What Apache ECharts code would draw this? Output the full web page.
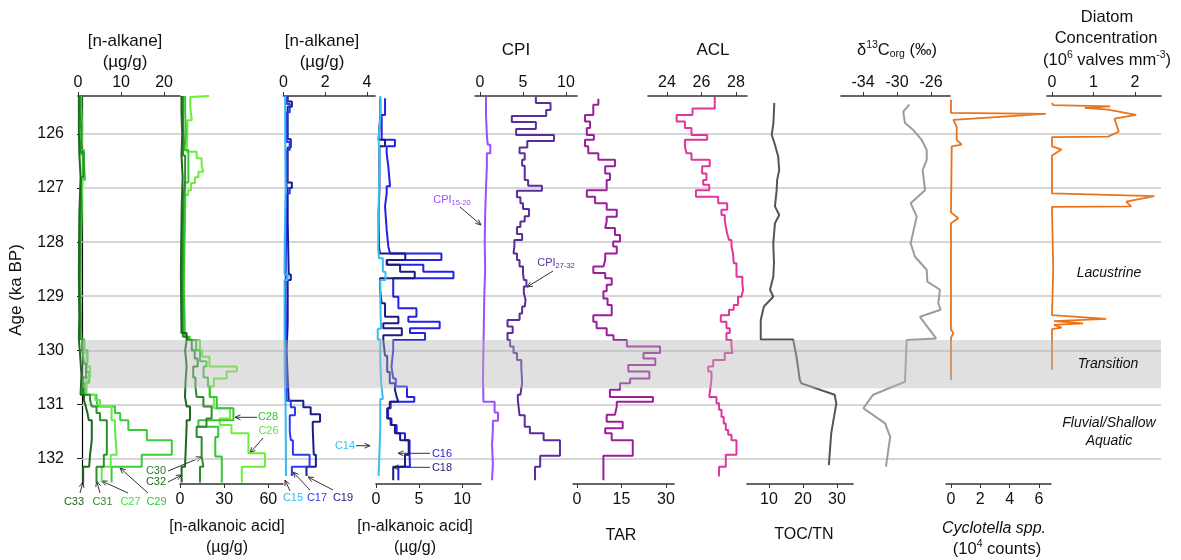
<!DOCTYPE html>
<html>
<head>
<meta charset="utf-8">
<script src="https://cdn.jsdelivr.net/npm/echarts@6/dist/echarts.min.js"></script>
<style>
  html, body { margin: 0; padding: 0; background: #ffffff; }
  #chart { width: 1181px; height: 560px; }
</style>
</head>
<body>
<div id="chart"></div>
<script>
// ---------------- Age scale (ka BP) ----------------
const AGE_TOP = 125.30;
const AGE_BOTTOM = 132.47;
const ageTicks = [126, 127, 128, 129, 130, 131, 132];
const transitionZone = [129.81, 130.70];

// ---------------- Long-chain n-alkanes (µg/g) : step profiles ----------------
// each value holds from ages[i] down to ages[i+1]
const c33Age = [125.30, 125.9, 126.35, 126.8, 127.5, 128.6, 129.4, 129.78, 130.1, 130.45, 130.82, 130.92, 131.04, 131.16, 131.29, 131.66, 131.93, 132.15, 132.44];
const c33Val = [0.2, 0.3, 0.6, 0.3, 0.2, 0.3, 0.2, 0.5, 0.8, 0.6, 1.4, 1.8, 2.2, 2.5, 3.2, 2.8, 2.6, 1.2];
const c31Age = [125.30, 125.6, 126.0, 126.35, 126.8, 127.3, 128.0, 128.8, 129.5, 129.78, 130.0, 130.25, 130.5, 130.82, 130.92, 131.04, 131.16, 131.29, 131.93, 132.15, 132.44];
const c31Val = [0.5, 0.8, 0.6, 1.3, 0.7, 0.5, 0.4, 0.6, 0.5, 1.0, 1.4, 1.9, 1.2, 2.8, 3.2, 4.3, 5.1, 6.7, 6.0, 4.3];
const c29Age = [125.30, 125.5, 125.9, 126.3, 126.55, 126.85, 127.4, 128.1, 128.9, 129.6, 129.8, 130.0, 130.2, 130.4, 130.6, 130.82, 130.92, 131.04, 131.16, 131.29, 131.47, 131.66, 131.93, 132.15, 132.44];
const c29Val = [0.8, 1.0, 0.7, 1.4, 1.6, 0.9, 0.7, 0.6, 0.7, 0.8, 1.5, 2.2, 1.8, 2.6, 1.6, 4.3, 4.6, 8.6, 9.8, 11.7, 16.0, 21.8, 14.8, 7.8];
const c27Age = [125.30, 125.7, 126.1, 126.4, 126.75, 127.2, 128.0, 128.7, 129.5, 129.8, 130.05, 130.3, 130.5, 130.82, 130.92, 131.04, 131.29, 131.47, 131.93, 132.15, 132.44];
const c27Val = [0.6, 0.9, 0.7, 1.2, 0.8, 0.6, 0.5, 0.7, 0.6, 1.3, 2.0, 2.8, 2.0, 4.0, 5.1, 7.8, 8.6, 9.0, 7.6, 5.5];

// ---------------- Long-chain n-alkanoic acids (µg/g) ----------------
const c32Age = [125.30, 125.6, 126.0, 126.4, 126.8, 127.3, 128.0, 128.6, 129.2, 129.68, 129.81, 130.0, 130.3, 130.55, 130.86, 131.04, 131.29, 131.41, 132.15, 132.44];
const c32Val = [1.0, 1.5, 1.0, 1.8, 1.2, 0.8, 0.6, 0.8, 1.0, 4.5, 3.5, 4.5, 3.8, 3.4, 4.5, 6.8, 4.5, 3.4, 1.1];
const c30Age = [125.30, 125.7, 126.1, 126.4, 126.85, 127.2, 128.0, 128.8, 129.5, 129.75, 129.81, 130.0, 130.15, 130.3, 130.5, 130.67, 130.86, 131.04, 131.26, 131.41, 131.6, 131.96, 132.15, 132.44];
const c30Val = [2.0, 2.5, 2.0, 3.5, 2.2, 1.8, 1.5, 1.8, 2.0, 5.0, 8.0, 10.0, 12.0, 9.0, 10.5, 11.3, 15.9, 21.5, 18.0, 11.3, 14.7, 15.9, 13.6];
const c28Age = [125.30, 125.6, 126.0, 126.3, 126.9, 127.2, 128.0, 128.8, 129.5, 129.75, 129.81, 130.0, 130.2, 130.3, 130.5, 130.67, 130.86, 131.07, 131.29, 131.41, 131.6, 131.96, 132.44];
const c28Val = [3.5, 4.0, 3.0, 5.7, 3.5, 2.8, 2.5, 3.0, 3.2, 6.0, 11.0, 13.6, 18.0, 16.0, 19.0, 20.4, 25.0, 36.3, 12.5, 26.0, 24.0, 28.4];
const c26Age = [125.30, 125.32, 125.5, 125.75, 126.0, 126.33, 126.45, 126.6, 126.7, 126.8, 126.91, 127.04, 127.13, 127.6, 128.2, 128.9, 129.5, 129.75, 129.81, 130.0, 130.12, 130.3, 130.39, 130.52, 130.67, 130.86, 131.07, 131.26, 131.38, 131.53, 131.9, 132.15, 132.44];
const c26Val = [19.7, 7.0, 8.0, 5.0, 4.5, 11.3, 14.7, 15.9, 12.5, 10.2, 7.5, 5.5, 3.5, 3.0, 2.7, 3.2, 3.0, 7.0, 13.6, 15.0, 20.0, 38.6, 31.7, 23.0, 20.0, 23.0, 34.0, 27.0, 35.0, 46.5, 57.8, 42.0];

// ---------------- Short-chain n-alkanes (µg/g) ----------------
const c19Age = [125.30, 125.40, 125.50, 126.1, 126.25, 126.9, 127.0, 127.6, 128.6, 128.7, 129.5, 130.0, 130.5, 130.93, 131.05, 131.18, 131.32, 131.45, 131.93, 132.15, 132.32];
const c19Val = [0.2, 0.4, 0.2, 0.35, 0.2, 0.4, 0.2, 0.25, 0.35, 0.2, 0.15, 0.2, 0.25, 0.95, 1.3, 1.75, 1.4, 1.45, 1.55, 1.1];
const c17Age = [125.30, 125.45, 125.6, 126.15, 126.3, 127.0, 127.1, 128.0, 129.0, 129.6, 130.2, 130.93, 131.05, 131.2, 131.5, 131.66, 131.93, 132.15, 132.32];
const c17Val = [0.15, 0.3, 0.15, 0.3, 0.15, 0.3, 0.12, 0.1, 0.12, 0.1, 0.15, 0.35, 0.55, 0.3, 0.35, 0.45, 1.25, 0.4];
const c15Age = [125.30, 126.0, 127.0, 128.0, 128.6, 128.7, 129.5, 130.5, 131.0, 132.32];
const c15Val = [0.08, 0.1, 0.06, 0.05, 0.2, 0.05, 0.06, 0.1, 0.12];

// ---------------- Short-chain n-alkanoic acids (µg/g) ----------------
const c14Age = [125.30, 125.7, 126.1, 126.5, 127.0, 127.5, 128.1, 128.3, 128.55, 128.7, 129.1, 129.4, 129.6, 129.8, 130.2, 130.6, 130.9, 131.4, 131.9, 132.32];
const c14Val = [0.5, 0.3, 0.45, 0.35, 0.3, 0.25, 0.35, 0.8, 1.1, 0.5, 0.55, 0.6, 0.2, 0.5, 0.6, 0.8, 0.5, 0.4, 0.3];
const c16Age = [125.34, 125.65, 126.11, 126.23, 126.36, 126.60, 126.97, 127.10, 127.34, 127.77, 128.08, 128.21, 128.33, 128.42, 128.55, 128.67, 129.01, 129.22, 129.38, 129.47, 129.59, 129.68, 129.81, 130.0, 130.3, 130.52, 130.67, 130.86, 130.95, 131.07, 131.26, 131.38, 131.53, 131.66, 131.93, 132.15, 132.40];
const c16Val = [1.05, 0.66, 2.2, 1.24, 1.43, 1.63, 1.24, 1.05, 1.24, 1.43, 1.63, 7.6, 1.3, 5.5, 9.0, 2.0, 2.6, 4.7, 3.76, 7.4, 3.95, 5.7, 2.0, 1.8, 2.0, 2.3, 3.6, 4.45, 1.7, 1.4, 1.8, 2.4, 3.37, 3.9, 3.95, 2.6];
const c18Age = [125.34, 125.65, 126.11, 126.23, 127.0, 127.5, 128.08, 128.21, 128.33, 128.42, 128.55, 128.67, 128.88, 129.13, 129.38, 129.50, 129.59, 129.72, 129.81, 130.1, 130.4, 130.61, 130.73, 130.86, 130.95, 131.07, 131.26, 131.38, 131.53, 131.66, 131.93, 132.15, 132.40];
const c18Val = [0.5, 0.3, 1.05, 0.4, 0.3, 0.35, 0.45, 3.4, 1.24, 2.8, 4.5, 0.47, 0.66, 1.05, 2.6, 0.85, 3.0, 0.85, 1.05, 1.3, 1.6, 2.2, 2.4, 2.6, 1.6, 1.3, 1.7, 2.2, 2.8, 3.8, 3.37, 2.0];

// ---------------- CPI ----------------
const cpiShortAge = [125.32, 125.65, 126.02, 126.20, 126.36, 126.60, 127.0, 127.5, 128.0, 128.5, 129.0, 129.5, 130.0, 130.5, 130.95, 131.15, 131.30, 131.45, 131.75, 132.10, 132.40];
const cpiShortVal = [0.7, 0.8, 0.9, 1.2, 0.8, 0.7, 0.6, 0.55, 0.6, 0.5, 0.45, 0.4, 0.35, 0.4, 1.7, 2.1, 1.5, 1.4, 1.5, 1.4];
const cpiLongAge = [125.32, 125.43, 125.56, 125.67, 125.78, 125.91, 126.02, 126.13, 126.25, 126.36, 126.48, 126.59, 126.85, 126.96, 127.05, 127.17, 127.28, 127.39, 127.52, 127.62, 127.72, 127.85, 127.96, 128.08, 128.21, 128.33, 128.45, 128.58, 128.70, 128.82, 128.94, 129.07, 129.19, 129.32, 129.44, 129.56, 129.68, 129.81, 129.93, 130.05, 130.18, 130.30, 130.60, 130.82, 130.92, 131.20, 131.41, 131.53, 131.66, 131.95, 132.15, 132.40];
const cpiLongVal = [6.5, 8.2, 7.7, 3.7, 6.5, 4.2, 8.6, 5.5, 4.6, 5.2, 4.9, 5.2, 5.6, 7.2, 4.3, 4.7, 5.0, 5.7, 5.2, 4.7, 4.3, 4.9, 4.0, 3.9, 4.3, 4.6, 5.0, 5.1, 5.4, 5.1, 5.3, 5.2, 4.9, 4.6, 3.2, 3.8, 3.2, 3.5, 3.9, 4.3, 4.8, 4.9, 4.7, 4.4, 4.6, 5.2, 5.8, 7.4, 9.3, 7.0, 6.4];

// ---------------- TAR ----------------
const tarAge = [125.35, 125.46, 125.65, 125.77, 125.89, 126.02, 126.11, 126.23, 126.36, 126.48, 126.60, 126.73, 126.85, 127.04, 127.16, 127.28, 127.40, 127.53, 127.62, 127.74, 127.87, 127.99, 128.08, 128.21, 128.33, 128.45, 128.57, 128.67, 128.79, 128.91, 129.04, 129.16, 129.35, 129.47, 129.59, 129.72, 129.81, 129.93, 130.05, 130.15, 130.27, 130.39, 130.52, 130.61, 130.73, 130.86, 130.95, 131.04, 131.19, 131.32, 131.44, 131.53, 131.66, 131.95, 132.40];
const tarVal = [7.2, 5.5, 2.7, 4.4, 3.3, 5.7, 2.7, 3.8, 7.2, 12.8, 9.5, 11.1, 10.0, 3.3, 6.1, 10.0, 13.4, 10.0, 9.5, 12.8, 14.5, 12.2, 13.4, 9.5, 8.9, 5.5, 9.5, 11.7, 10.0, 8.9, 10.3, 11.7, 5.5, 6.6, 10.0, 12.3, 16.8, 28.0, 22.4, 26.4, 17.3, 24.4, 17.9, 14.5, 11.1, 25.6, 13.4, 12.8, 10.0, 15.4, 9.5, 11.7, 18.8, 8.9];

// ---------------- ACL ----------------
const aclAge = [125.32, 125.53, 125.65, 125.77, 125.89, 126.02, 126.11, 126.23, 126.36, 126.48, 126.60, 126.73, 126.85, 126.94, 127.04, 127.16, 127.28, 127.40, 127.50, 127.59, 127.71, 127.84, 127.96, 128.08, 128.21, 128.39, 128.64, 128.76, 128.88, 129.01, 129.16, 129.25, 129.35, 129.47, 129.59, 129.68, 129.81, 129.93, 130.05, 130.18, 130.30, 130.39, 130.52, 130.67, 130.86, 130.98, 131.10, 131.23, 131.35, 131.47, 131.56, 131.66, 131.93, 132.15, 132.33];
const aclVal = [26.77, 25.48, 24.56, 25.04, 25.42, 26.33, 25.04, 25.13, 25.42, 26.48, 26.04, 26.29, 26.1, 26.45, 25.68, 26.97, 27.49, 27.16, 27.35, 27.41, 27.49, 27.6, 27.74, 27.83, 27.87, 28.03, 28.37, 28.41, 28.32, 28.12, 27.87, 27.6, 27.12, 27.45, 27.64, 27.45, 27.74, 27.8, 27.35, 26.68, 26.39, 26.58, 26.53, 26.45, 26.87, 27.02, 27.16, 27.29, 27.41, 27.55, 27.74, 28.03, 27.41, 27.02];

// ---------------- TOC/TN (point profile) ----------------
const tocAge = [125.43, 125.80, 126.02, 126.20, 126.42, 126.67, 126.85, 127.04, 127.34, 127.50, 127.65, 128.02, 128.39, 128.64, 128.88, 129.01, 129.19, 129.44, 129.80, 129.80, 130.12, 130.55, 130.61, 130.82, 130.98, 131.53, 132.12];
const tocVal = [11.55, 11.3, 10.8, 11.75, 12.7, 13.0, 12.4, 12.25, 11.75, 13.0, 11.75, 11.26, 11.46, 11.26, 10.3, 11.26, 8.5, 7.57, 7.57, 17.1, 18.1, 19.06, 19.56, 29.3, 29.8, 28.3, 27.6];

// ---------------- δ13C org (‰) ----------------
const d13Age = [125.46, 125.59, 125.80, 125.93, 126.11, 126.30, 126.48, 126.67, 127.04, 127.28, 127.53, 128.02, 128.27, 128.51, 128.73, 128.88, 129.13, 129.25, 129.38, 129.78, 129.81, 130.58, 130.82, 131.07, 131.35, 131.60, 132.15];
const d13Val = [-28.55, -29.26, -29.06, -28.08, -27.09, -26.5, -26.5, -26.98, -26.7, -28.39, -27.68, -28.39, -27.88, -26.5, -26.43, -24.94, -25.14, -24.86, -27.3, -25.4, -28.86, -29.06, -32.8, -33.96, -31.4, -30.8, -31.3];

// ---------------- Cyclotella spp. (10^4 counts) ----------------
const cycAge = [125.37, 125.61, 125.63, 125.74, 125.87, 126.11, 126.20, 126.23, 127.45, 127.56, 127.65, 129.62, 129.68, 129.77, 130.55];
const cycVal = [0, 0, 6.46, 0.16, 0.39, 0.39, 0.73, 0.05, 0, 0.5, 0, 0, 0.16, 0, 0];

// ---------------- Diatom concentration (10^6 valves mm^-3) ----------------
const diaAge = [125.43, 125.47, 125.49, 125.52, 125.55, 125.65, 125.72, 125.96, 126.05, 126.06, 126.23, 126.29, 126.40, 127.10, 127.15, 127.25, 127.34, 127.35, 128.50, 129.35, 129.42, 129.46, 129.50, 129.53, 129.58, 129.61, 130.36];
const diaVal = [0, 0.03, 1.41, 0.79, 1.35, 2.03, 1.51, 1.61, 1.35, 0, 0, 0.23, 0, 0, 2.47, 1.79, 1.91, 0, 0.03, 0, 1.31, 0.05, 0.75, 0.05, 0.23, 0, 0];

// ---------------- layout of the strip panels ----------------
const FONT = '"Liberation Sans", Arial, sans-serif';
const PLOT_TOP = 96, PLOT_H = 388;
const panels = [
  { left: 78,    right: 180,  min: 0,      max: 23.7,   ticks: [0, 10, 20],      pos: 'top' },
  { left: 180,   right: 283,  min: 0,      max: 70,     ticks: [0, 30, 60],      pos: 'bottom' },
  { left: 283.5, right: 375,  min: 0,      max: 4.38,   ticks: [0, 2, 4],        pos: 'top' },
  { left: 376,   right: 481,  min: 0,      max: 12.2,   ticks: [0, 5, 10],       pos: 'bottom' },
  { left: 475,   right: 577,  min: -0.58,  max: 11.28,  ticks: [0, 5, 10],       pos: 'top' },
  { left: 573,   right: 674,  min: -1.35,  max: 32.7,   ticks: [0, 15, 30],      pos: 'bottom' },
  { left: 648,   right: 747,  min: 22.9,   max: 28.64,  ticks: [24, 26, 28],     pos: 'top' },
  { left: 747,   right: 853,  min: 3.53,   max: 34.7,   ticks: [10, 20, 30],     pos: 'bottom' },
  { left: 841,   right: 950,  min: -36.59, max: -23.76, ticks: [-34, -30, -26],  pos: 'top' },
  { left: 946,   right: 1051, min: -0.34,  max: 6.82,   ticks: [0, 2, 4, 6],     pos: 'bottom' },
  { left: 1047,  right: 1161, min: -0.12,  max: 2.63,   ticks: [0, 1, 2],        pos: 'top' }
];

const stepProfiles = [
  { panel: 0, ages: c29Age, vals: c29Val, color: '#3acb3a' },
  { panel: 0, ages: c27Age, vals: c27Val, color: '#5fec47' },
  { panel: 0, ages: c31Age, vals: c31Val, color: '#2e8f2e' },
  { panel: 0, ages: c33Age, vals: c33Val, color: '#1c6a1c' },
  { panel: 1, ages: c26Age, vals: c26Val, color: '#6aee3a' },
  { panel: 1, ages: c28Age, vals: c28Val, color: '#34c634' },
  { panel: 1, ages: c30Age, vals: c30Val, color: '#2e8a2e' },
  { panel: 1, ages: c32Age, vals: c32Val, color: '#1c6a1c' },
  { panel: 2, ages: c19Age, vals: c19Val, color: '#1c1c8c' },
  { panel: 2, ages: c17Age, vals: c17Val, color: '#2a3cf0' },
  { panel: 2, ages: c15Age, vals: c15Val, color: '#35b8f0' },
  { panel: 3, ages: c16Age, vals: c16Val, color: '#2323e6' },
  { panel: 3, ages: c18Age, vals: c18Val, color: '#1c1c80' },
  { panel: 3, ages: c14Age, vals: c14Val, color: '#38bff0' },
  { panel: 4, ages: cpiShortAge, vals: cpiShortVal, color: '#9d4dff' },
  { panel: 4, ages: cpiLongAge, vals: cpiLongVal, color: '#5a2d9c' },
  { panel: 5, ages: tarAge, vals: tarVal, color: '#9a1f9a' },
  { panel: 6, ages: aclAge, vals: aclVal, color: '#e0359b' }
];
const pointProfiles = [
  { panel: 7,  ages: tocAge, vals: tocVal, color: '#555555', width: 2 },
  { panel: 8,  ages: d13Age, vals: d13Val, color: '#9c9c9c', width: 2 },
  { panel: 9,  ages: cycAge, vals: cycVal, color: '#e8731a', width: 1.8 },
  { panel: 10, ages: diaAge, vals: diaVal, color: '#e8731a', width: 1.8 }
];

function stepPoints(ages, vals) {
  const pts = [];
  for (let i = 0; i < vals.length; i++) {
    pts.push([vals[i], ages[i]], [vals[i], ages[i + 1]]);
  }
  return pts;
}

const grids = [], xAxes = [], yAxes = [], series = [];
panels.forEach((p, i) => {
  grids.push({ left: p.left, width: p.right - p.left, top: PLOT_TOP, height: PLOT_H });
  xAxes.push({
    gridIndex: i, type: 'value', position: p.pos, min: p.min, max: p.max,
    axisLine: { show: true, onZero: false, lineStyle: { color: '#333', width: 1.6 } },
    axisTick: { show: true, customValues: p.ticks, length: 4, lineStyle: { color: '#333', width: 1 } },
    axisLabel: { customValues: p.ticks, fontSize: 16, color: '#111', fontFamily: FONT, margin: p.pos === 'top' ? 5 : 8 },
    splitLine: { show: false }
  });
  yAxes.push({ gridIndex: i, type: 'value', inverse: true, min: AGE_TOP, max: AGE_BOTTOM, show: false });
});

// full-width frame: age axis, horizontal age lines and the transition zone
const FRAME = panels.length;
grids.push({ left: 77, width: 1161 - 77, top: PLOT_TOP, height: PLOT_H });
xAxes.push({ gridIndex: FRAME, type: 'value', min: 0, max: 1, show: false });
yAxes.push({
  gridIndex: FRAME, type: 'value', inverse: true, min: AGE_TOP, max: AGE_BOTTOM,
  name: 'Age (ka BP)', nameLocation: 'middle', nameGap: 57, nameRotate: 90,
  nameTextStyle: { fontSize: 17, color: '#111', fontFamily: FONT },
  axisLine: { show: true, lineStyle: { color: '#000', width: 1.2 } },
  axisTick: { show: true, customValues: ageTicks, length: 5, lineStyle: { color: '#222' } },
  axisLabel: { customValues: ageTicks, fontSize: 16, color: '#111', fontFamily: FONT, margin: 18 },
  splitLine: { show: false }
});

series.push({
  type: 'line', xAxisIndex: FRAME, yAxisIndex: FRAME, data: [[0.5, AGE_TOP]],
  symbol: 'none', silent: true, z: 1,
  markLine: {
    silent: true, z: 1, symbol: ['none', 'none'], label: { show: false },
    lineStyle: { color: '#c8c8c8', width: 1.5, type: 'solid' },
    data: ageTicks.map(a => ({ yAxis: a }))
  }
});

stepProfiles.forEach(s => {
  series.push({
    type: 'line', xAxisIndex: s.panel, yAxisIndex: s.panel,
    data: stepPoints(s.ages, s.vals), symbol: 'none', showSymbol: false, silent: true, z: 3,
    lineStyle: { color: s.color, width: 2 }
  });
});
pointProfiles.forEach(s => {
  series.push({
    type: 'line', xAxisIndex: s.panel, yAxisIndex: s.panel,
    data: s.vals.map((v, i) => [v, s.ages[i]]), symbol: 'none', showSymbol: false, silent: true, z: 3,
    lineStyle: { color: s.color, width: s.width }
  });
});

series.push({
  type: 'line', xAxisIndex: FRAME, yAxisIndex: FRAME, data: [[0.5, AGE_TOP]],
  symbol: 'none', silent: true, z: 10,
  markArea: {
    silent: true, z: 10,
    itemStyle: { color: 'rgba(180,180,180,0.42)' },
    data: [[{ yAxis: transitionZone[0] }, { yAxis: transitionZone[1] }]]
  }
});

// ---------------- titles, zone names and compound labels ----------------
function txt(x, y, text, opts) {
  opts = opts || {};
  return {
    type: 'text', x: x, y: y, z: 100, silent: true,
    style: Object.assign({
      text: text, align: 'center', verticalAlign: 'middle',
      fontSize: 17, fontFamily: FONT, fill: '#111'
    }, opts)
  };
}
function arrow(x1, y1, x2, y2) {
  const a = Math.atan2(y2 - y1, x2 - x1), L = 6, w = 0.42;
  return {
    type: 'group', z: 100, silent: true,
    children: [
      { type: 'line', shape: { x1: x1, y1: y1, x2: x2, y2: y2 }, style: { stroke: '#333', lineWidth: 1 } },
      { type: 'polyline', shape: { points: [
          [x2 - L * Math.cos(a - w), y2 - L * Math.sin(a - w)], [x2, y2],
          [x2 - L * Math.cos(a + w), y2 - L * Math.sin(a + w)]] },
        style: { stroke: '#333', lineWidth: 1, fill: null } }
    ]
  };
}

const supSub = {
  m: { fontSize: 16.5, fontFamily: FONT, fill: '#111', lineHeight: 20 },
  sup: { fontSize: 10.5, fontFamily: FONT, fill: '#111', verticalAlign: 'top', lineHeight: 20 },
  sub: { fontSize: 10.5, fontFamily: FONT, fill: '#111', verticalAlign: 'bottom', lineHeight: 16 },
  mi: { fontSize: 16, fontFamily: FONT, fill: '#111', fontStyle: 'italic', lineHeight: 20 }
};

const compoundLabels = [
  ['C33', 74, 502, '#1c6a1c'], ['C31', 102.5, 502, '#2e8f2e'], ['C27', 130.5, 502, '#3fe23f'], ['C29', 156.5, 502, '#33c633'],
  ['C30', 156, 471, '#2e7a2e'], ['C32', 156, 482, '#1c6a1c'],
  ['C28', 268, 417, '#33c633'], ['C26', 268.5, 431, '#5de636'],
  ['C15', 293, 498, '#35b8f0'], ['C17', 317, 498, '#2a3cf0'], ['C19', 343, 498, '#1c1c8c'],
  ['C14', 345, 446, '#38bff0'], ['C16', 442, 454, '#2323e6'], ['C18', 442, 468, '#1c1c80']
];
const arrows = [
  [80, 493, 83, 482], [100, 493, 96.7, 481], [128, 493, 101.7, 481], [148, 493, 120, 468],
  [168, 471, 201.7, 457], [168, 482, 181.7, 475],
  [257, 417.3, 235, 417.3], [263, 438, 250, 453],
  [290, 491, 285, 480], [310, 490, 293, 472], [333, 490, 308, 477],
  [356, 445.7, 370, 445.7], [430, 453.3, 398, 453.3], [430, 467.3, 393, 467.3],
  [460, 207, 481, 225], [553, 271, 527, 287]
];

const graphics = [
  txt(125, 41, '[n-alkane]'), txt(125, 62, '(µg/g)'),
  txt(322, 41, '[n-alkane]'), txt(322, 62, '(µg/g)'),
  txt(516, 50, 'CPI'), txt(713, 50, 'ACL'),
  txt(897, 50, '{m|δ}{sup|13}{m|C}{sub|org}{m| (‰)}', { rich: supSub }),
  txt(1107, 17, 'Diatom', { fontSize: 16.5 }), txt(1106, 38, 'Concentration', { fontSize: 16.5 }),
  txt(1107, 60, '{m|(10}{sup|6}{m| valves mm}{sup|-3}{m|)}', { rich: supSub }),
  txt(227, 527, '[n-alkanoic acid]', { fontSize: 16 }), txt(227, 548, '(µg/g)', { fontSize: 16 }),
  txt(415, 527, '[n-alkanoic acid]', { fontSize: 16 }), txt(415, 548, '(µg/g)', { fontSize: 16 }),
  txt(621, 536, 'TAR', { fontSize: 16 }), txt(804, 535, 'TOC/TN', { fontSize: 16 }),
  txt(994, 529, 'Cyclotella spp.', { fontSize: 16, fontStyle: 'italic' }),
  txt(997, 549, '{m|(10}{sup|4}{m| counts)}', { rich: supSub }),
  txt(1109, 273, 'Lacustrine', { fontSize: 14, fontStyle: 'italic' }),
  txt(1108, 364, 'Transition', { fontSize: 14, fontStyle: 'italic' }),
  txt(1109, 423, 'Fluvial/Shallow', { fontSize: 14, fontStyle: 'italic' }),
  txt(1109, 441, 'Aquatic', { fontSize: 14, fontStyle: 'italic' }),
  txt(452, 200, '{c|CPI}{s|15-20}', { rich: {
    c: { fontSize: 11, fontFamily: FONT, fill: '#9d4dff', lineHeight: 14 },
    s: { fontSize: 7.5, fontFamily: FONT, fill: '#9d4dff', verticalAlign: 'bottom', lineHeight: 10 } } }),
  txt(556, 263, '{c|CPI}{s|27-32}', { rich: {
    c: { fontSize: 11, fontFamily: FONT, fill: '#5a2d9c', lineHeight: 14 },
    s: { fontSize: 7.5, fontFamily: FONT, fill: '#5a2d9c', verticalAlign: 'bottom', lineHeight: 10 } } })
];
compoundLabels.forEach(l => graphics.push(txt(l[1], l[2], l[0], { fontSize: 11, fill: l[3] })));
arrows.forEach(a => graphics.push(arrow(a[0], a[1], a[2], a[3])));

const chart = echarts.init(document.getElementById('chart'), null, { renderer: 'canvas' });
chart.setOption({
  animation: false,
  backgroundColor: '#ffffff',
  textStyle: { fontFamily: FONT },
  grid: grids,
  xAxis: xAxes,
  yAxis: yAxes,
  series: series,
  graphic: graphics
});
</script>
</body>
</html>
